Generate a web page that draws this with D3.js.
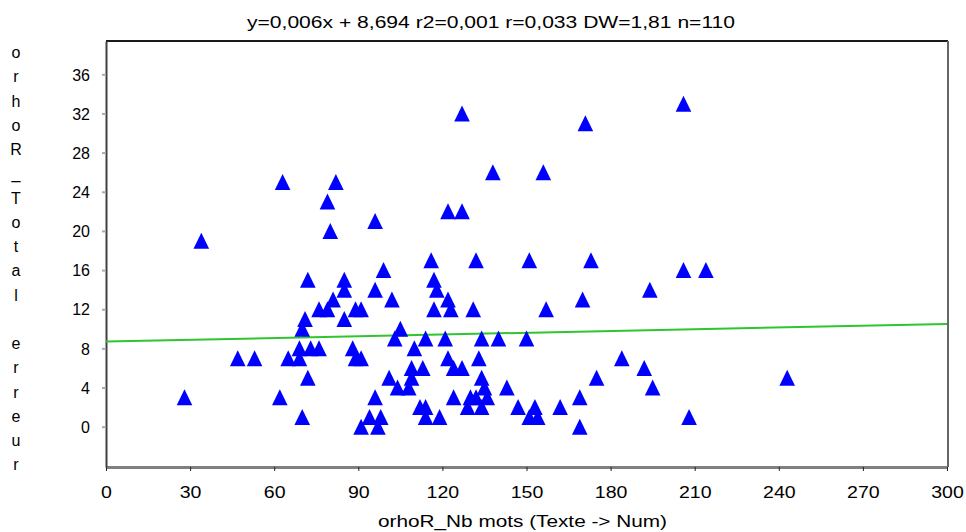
<!DOCTYPE html>
<html>
<head>
<meta charset="utf-8">
<script src="https://cdn.jsdelivr.net/npm/d3@7/dist/d3.min.js"></script>
<style>
  html, body { margin: 0; padding: 0; background: #fff; }
  svg { display: block; }
  text { font-family: "Liberation Sans", Arial, sans-serif; fill: #000; }
</style>
</head>
<body>
<script>
// ---- Data ----
const title = "y=0,006x + 8,694 r2=0,001 r=0,033 DW=1,81 n=110";
const xLabel = "orhoR_Nb mots (Texte -> Num)";
const yLabel = "orhoR_Total erreur";
const xTicks = [0, 30, 60, 90, 120, 150, 180, 210, 240, 270, 300];
const yTicks = [0, 4, 8, 12, 16, 20, 24, 28, 32, 36];
const regSlope = 0.006;
const regIntercept = 8.694;
const xValues = [28,34,47,53,62,63,65,69,69,70,70,71,72,72,73,76,76,79,79,80,81,82,85,85,85,88,89,91,89,91,91,94,96,96,96,97,98,99,101,102,103,104,105,108,109,109,110,112,113,114,114,114,116,117,118,117,119,121,122,122,123,122,124,124,127,127,127,129,130,131,132,132,133,134,134,134,135,136,138,140,143,147,150,151,151,153,154,156,157,162,169,169,170,171,173,175,184,192,194,195,206,206,208,214,243];
const yValues = [3,19,7,7,3,25,7,7,8,10,1,11,15,5,8,8,12,12,23,20,13,25,15,14,11,8,12,12,7,7,0,1,21,14,3,0,1,16,5,13,9,4,10,4,6,5,8,2,6,9,2,1,17,15,14,12,1,9,22,13,12,7,6,3,32,22,6,2,3,12,17,3,7,9,5,2,4,3,26,9,4,2,9,17,1,2,1,26,12,2,3,0,13,31,17,5,7,6,14,4,33,16,1,16,5];

// ---- Layout ----
const W = 966, H = 532;
const pL = 106, pR = 947, pT = 41, pB = 467;

const svg = d3.select("body").append("svg").attr("width", W).attr("height", H);

const x = d3.scaleLinear().domain([0, 300]).range([pL, pR]);
const y = d3.scaleLinear().domain([-4.12, 39.4]).range([pB, pT]);

// frame top and right
svg.append("line").attr("x1", pL).attr("x2", pR + 1).attr("y1", pT).attr("y2", pT)
  .attr("stroke", "#1a1a1a").attr("stroke-width", 2);
svg.append("line").attr("x1", pR + 1).attr("x2", pR + 1).attr("y1", pT).attr("y2", pB)
  .attr("stroke", "#666").attr("stroke-width", 2);

// x axis
const xAxis = d3.axisBottom(x).tickValues(xTicks).tickSize(4).tickSizeOuter(0).tickFormat(d3.format("d"));
const gx = svg.append("g").attr("transform", `translate(0,${pB})`).call(xAxis);
gx.select(".domain").attr("stroke", "#808080").attr("stroke-width", 3);
gx.selectAll(".tick line").attr("stroke", "#222").attr("stroke-width", 1);
gx.selectAll(".tick text").attr("font-size", 16).attr("dy", "0").attr("y", 31)
  .style("font-family", "Liberation Sans, Arial, sans-serif").attr("fill", "#000")
  .each(function () {
    const w = this.getComputedTextLength();
    d3.select(this).attr("textLength", w * 1.22).attr("lengthAdjust", "spacingAndGlyphs");
  });

// y axis
const yAxis = d3.axisLeft(y).tickValues(yTicks).tickSize(4).tickSizeOuter(0).tickFormat(d3.format("d"));
const gy = svg.append("g").attr("transform", `translate(${pL},0)`).call(yAxis);
gy.select(".domain").attr("stroke", "#404040").attr("stroke-width", 2);
gy.selectAll(".tick line").attr("stroke", "#aaa").attr("stroke-width", 2);
gy.selectAll(".tick text").attr("font-size", 16).attr("x", -16).attr("dy", "0.36em")
  .style("font-family", "Liberation Sans, Arial, sans-serif").attr("fill", "#000");

// regression line
svg.append("line")
  .attr("x1", x(0)).attr("y1", y(regIntercept))
  .attr("x2", x(300)).attr("y2", y(regIntercept + regSlope * 300))
  .attr("stroke", "#2ec52e").attr("stroke-width", 2);

// points
const pts = xValues.map((v, i) => ({ x: v, y: yValues[i] }));
svg.append("g").selectAll("path").data(pts).join("path")
  .attr("d", "M0,-8L7.8,8L-7.8,8Z")
  .attr("transform", d => `translate(${x(d.x)},${y(d.y)})`)
  .attr("fill", "#0000ff");

// title
svg.append("text").attr("x", 491).attr("y", 28).attr("text-anchor", "middle")
  .attr("font-size", 16).attr("textLength", 488).attr("lengthAdjust", "spacingAndGlyphs")
  .text(title);

// x label
svg.append("text").attr("x", 522.5).attr("y", 527).attr("text-anchor", "middle")
  .attr("font-size", 16).attr("textLength", 289).attr("lengthAdjust", "spacingAndGlyphs")
  .text(xLabel);

// y label: stacked characters
const chars = Array.from(yLabel);
svg.append("g").selectAll("text").data(chars).join("text")
  .attr("x", 16).attr("y", (d, i) => 58 + i * 24.25)
  .attr("text-anchor", "middle").attr("font-size", 16)
  .text(d => d);
</script>
</body>
</html>
